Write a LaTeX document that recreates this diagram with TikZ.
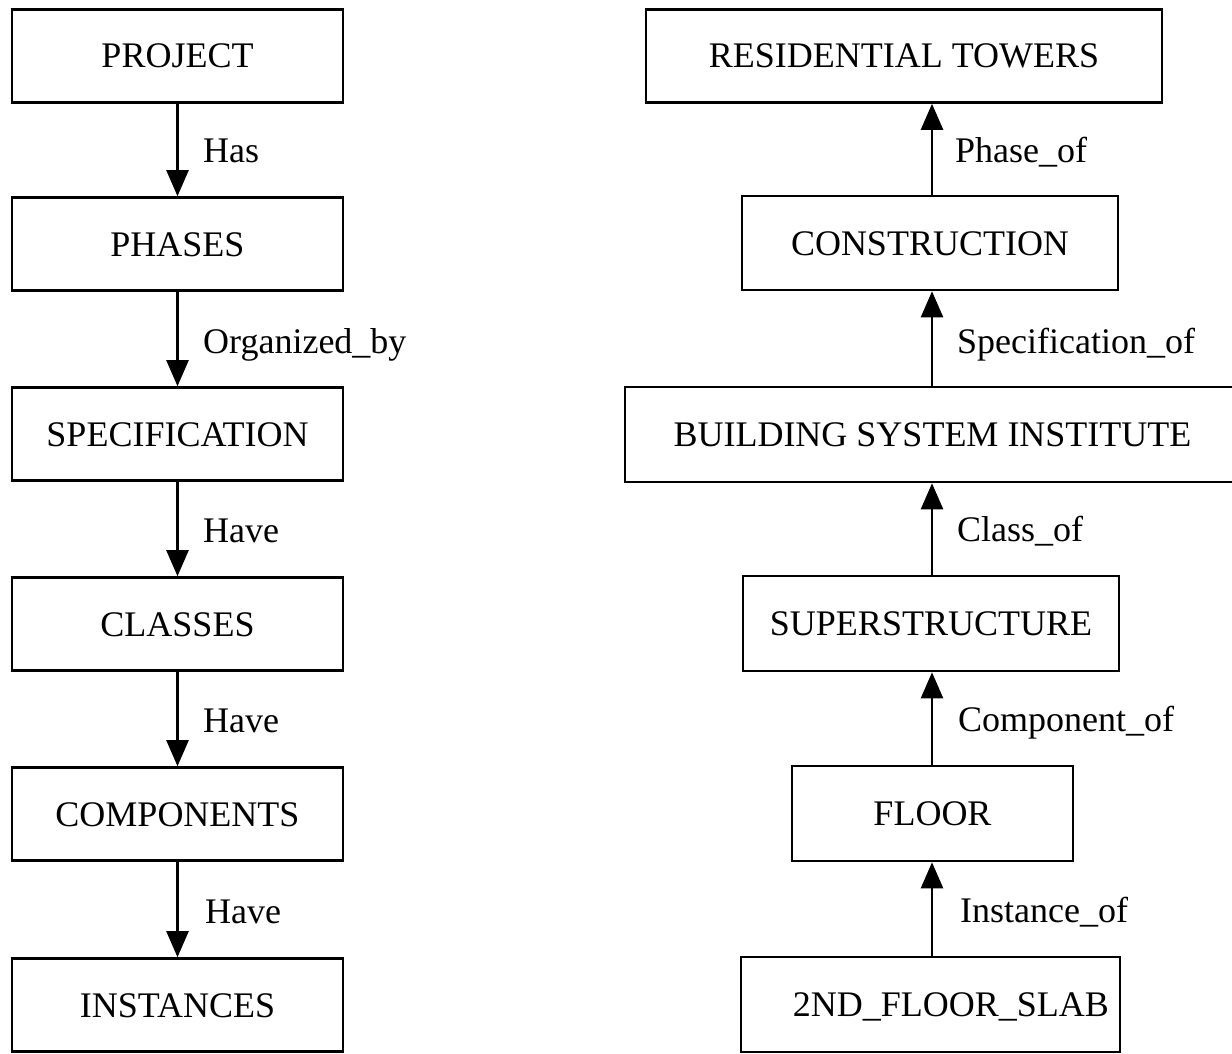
\documentclass[tikz,border=0pt]{standalone}
\usepackage{fontspec}
\setmainfont{Liberation Serif}
\usetikzlibrary{arrows.meta}
\begin{document}
\begin{tikzpicture}[x=1pt,y=-1pt,
  box/.style={draw,line width=2.6pt,minimum height=93pt,inner sep=0pt,
    font=\fontsize{36}{40}\selectfont,text height=24pt,text depth=0pt},
  lbl/.style={anchor=west,inner sep=0pt,font=\fontsize{36}{40}\selectfont,
    text height=24pt,text depth=0pt},
  arr/.style={line width=2.4pt,-{Triangle[length=26pt,width=22pt]}}]
\useasboundingbox (0,0) rectangle (1232,1054);
% left column
\node[box,minimum width=331pt] (project) at (177.5,56) {PROJECT};
\node[box,minimum width=331pt] (phases) at (177.5,244) {PHASES};
\node[box,minimum width=331pt] (spec) at (177.5,434) {SPECIFICATION};
\node[box,minimum width=331pt] (classes) at (177.5,624) {CLASSES};
\node[box,minimum width=331pt] (components) at (177.5,814) {COMPONENTS};
\node[box,minimum width=331pt] (instances) at (177.5,1005) {INSTANCES};
\draw[arr] (project.south) -- (phases.north);
\draw[arr] (phases.south) -- (spec.north);
\draw[arr] (spec.south) -- (classes.north);
\draw[arr] (classes.south) -- (components.north);
\draw[arr] (components.south) -- (instances.north);
\node[lbl] (l1) at (203,151) {Has};
\node[lbl] (l2) at (203,341) {Organized\_by};
\node[lbl] (l3) at (203,530) {Have};
\node[lbl] (l4) at (203,720) {Have};
\node[lbl] (l5) at (205,911) {Have};
% right column
\node[box,minimum width=516pt] (towers) at (904,56) {RESIDENTIAL TOWERS};
\node[box,minimum width=376pt,minimum height=94pt] (construction) at (930,243) {CONSTRUCTION};
\node[box,minimum width=615pt,minimum height=95pt] (bsi) at (932.5,434.5) {BUILDING SYSTEM INSTITUTE};
\node[box,minimum width=376pt,minimum height=95pt] (super) at (931,623.5) {SUPERSTRUCTURE};
\node[box,minimum width=281pt,minimum height=95pt] (floor) at (932.5,813.5) {FLOOR};
\node[box,minimum width=379pt,minimum height=95pt] (slab) at (930.5,1004.5) {\hspace*{41pt}2ND\_FLOOR\_SLAB};
\draw[arr] (construction.north -| 932,0) -- (towers.south -| 932,0);
\draw[arr] (bsi.north -| 932,0) -- (construction.south -| 932,0);
\draw[arr] (super.north -| 932,0) -- (bsi.south -| 932,0);
\draw[arr] (floor.north -| 932,0) -- (super.south -| 932,0);
\draw[arr] (slab.north -| 932,0) -- (floor.south -| 932,0);
\node[lbl] (r1) at (955,151) {Phase\_of};
\node[lbl] (r2) at (957,341) {Specification\_of};
\node[lbl] (r3) at (957,529) {Class\_of};
\node[lbl] (r4) at (958,719) {Component\_of};
\node[lbl] (r5) at (960,910) {Instance\_of};
\end{tikzpicture}
\end{document}
